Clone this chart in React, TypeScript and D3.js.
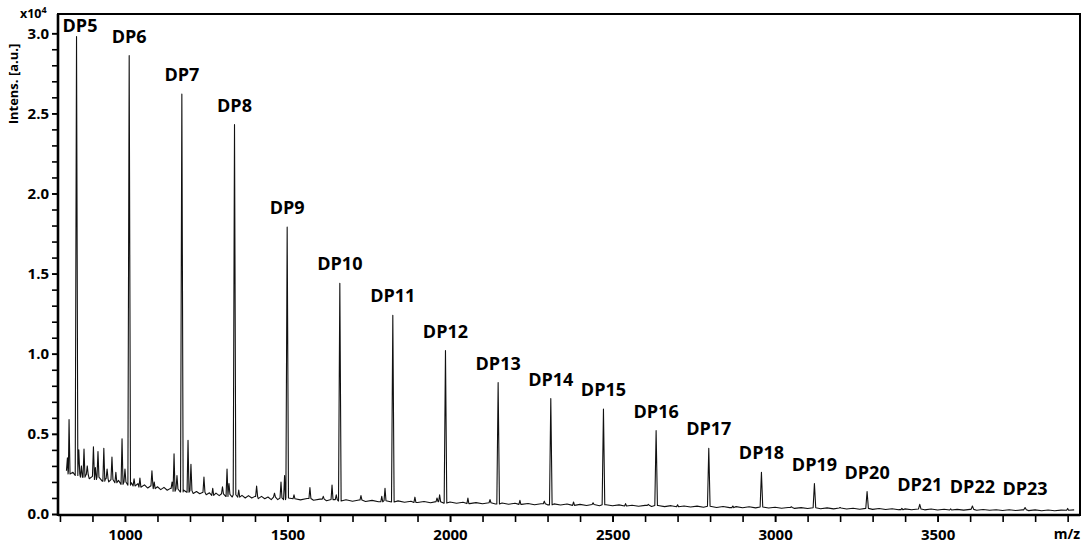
import React, { useEffect, useRef } from "react";
import * as d3 from "d3";

// DP (degree of polymerisation) series peaks, intensity in x10^4 a.u.
const dpLabels = ["DP5", "DP6", "DP7", "DP8", "DP9", "DP10", "DP11", "DP12", "DP13", "DP14", "DP15", "DP16", "DP17", "DP18", "DP19", "DP20", "DP21", "DP22", "DP23"];
const dpMz = [851, 1013, 1175, 1337, 1499, 1661, 1824, 1986, 2148, 2310, 2472, 2634, 2796, 2958, 3121, 3283, 3445, 3607, 3769];
const dpIntensity = [2.98, 2.86, 2.62, 2.43, 1.79, 1.44, 1.24, 1.02, 0.82, 0.72, 0.655, 0.52, 0.41, 0.26, 0.19, 0.14, 0.06, 0.05, 0.04];

// small side peaks
const minorMz = [823, 828, 858, 866, 874, 884, 903, 909, 917, 935, 945, 960, 972, 991, 1000, 1028, 1046, 1083, 1090, 1145, 1151, 1160, 1194, 1203, 1243, 1270, 1300, 1314, 1320, 1350, 1405, 1460, 1480, 1491, 1520, 1569, 1610, 1637, 1650, 1726, 1790, 1800, 1892, 1960, 1968, 2055, 2123, 2215, 2290, 2380, 2440, 2540, 2610, 2700, 2870, 3050, 3200, 3390, 3540, 3900];
const minorIntensity = [0.35, 0.59, 0.40, 0.30, 0.405, 0.30, 0.42, 0.29, 0.39, 0.41, 0.28, 0.355, 0.26, 0.47, 0.28, 0.22, 0.225, 0.27, 0.2, 0.2, 0.375, 0.24, 0.46, 0.31, 0.23, 0.16, 0.17, 0.28, 0.19, 0.15, 0.175, 0.13, 0.2, 0.24, 0.12, 0.165, 0.11, 0.18, 0.12, 0.115, 0.11, 0.16, 0.105, 0.1, 0.12, 0.1, 0.09, 0.085, 0.08, 0.075, 0.07, 0.065, 0.06, 0.058, 0.05, 0.045, 0.04, 0.035, 0.032, 0.035];

// baseline, 820..1500 every 10
const lowBaseStart = 820;
const lowBaseStep = 10;
const lowBase = [
  0.27, 0.25, 0.26, 0.24, 0.25, 0.23, 0.245, 0.22, 0.235, 0.215,
  0.23, 0.205, 0.22, 0.2, 0.215, 0.195, 0.21, 0.185, 0.2, 0.18,
  0.195, 0.175, 0.19, 0.168, 0.182, 0.162, 0.176, 0.158, 0.17, 0.152,
  0.166, 0.148, 0.16, 0.142, 0.156, 0.138, 0.15, 0.136, 0.146, 0.128,
  0.14, 0.126, 0.136, 0.12, 0.132, 0.116, 0.13, 0.115, 0.126, 0.11,
  0.122, 0.106, 0.12, 0.105, 0.116, 0.1, 0.115, 0.1, 0.11, 0.096,
  0.11, 0.095, 0.106, 0.09, 0.105, 0.09, 0.1, 0.09, 0.1,
];
// baseline, 1520..3920 every 20
const highBaseStart = 1520;
const highBaseStep = 20;
const highBase = [
  0.095, 0.088, 0.097, 0.086, 0.093, 0.083, 0.09, 0.081, 0.089, 0.08,
  0.087, 0.078, 0.085, 0.076, 0.083, 0.075, 0.082, 0.073, 0.08, 0.072,
  0.078, 0.07, 0.077, 0.068, 0.075, 0.067, 0.073, 0.065, 0.071, 0.064,
  0.07, 0.062, 0.069, 0.061, 0.067, 0.06, 0.066, 0.058, 0.064, 0.057,
  0.063, 0.056, 0.062, 0.054, 0.06, 0.053, 0.059, 0.052, 0.058, 0.051,
  0.057, 0.05, 0.055, 0.048, 0.054, 0.047, 0.053, 0.046, 0.052, 0.045,
  0.05, 0.044, 0.049, 0.042, 0.048, 0.041, 0.047, 0.04, 0.046, 0.039,
  0.045, 0.038, 0.044, 0.037, 0.042, 0.036, 0.041, 0.035, 0.04, 0.034,
  0.039, 0.033, 0.038, 0.032, 0.037, 0.031, 0.036, 0.03, 0.035, 0.029,
  0.034, 0.028, 0.033, 0.027, 0.032, 0.027, 0.031, 0.026, 0.031, 0.025,
  0.03, 0.025, 0.029, 0.024, 0.029, 0.023, 0.028, 0.023, 0.027, 0.022,
  0.027, 0.022, 0.026, 0.021, 0.026, 0.02, 0.025, 0.02, 0.024, 0.023,
  0.026,
];

const xMajorTicks = [1000, 1500, 2000, 2500, 3000, 3500];
const xMinorTicks = [800, 900, 1000, 1100, 1200, 1300, 1400, 1500, 1600, 1700, 1800, 1900, 2000, 2100, 2200, 2300, 2400, 2500, 2600, 2700, 2800, 2900, 3000, 3100, 3200, 3300, 3400, 3500, 3600, 3700, 3800, 3900];
const yMajorTicks = [0, 0.5, 1.0, 1.5, 2.0, 2.5, 3.0];
const yMinorTicks = [0, 0.1, 0.2, 0.3, 0.4, 0.5, 0.6, 0.7, 0.8, 0.9, 1.0, 1.1, 1.2, 1.3, 1.4, 1.5, 1.6, 1.7, 1.8, 1.9, 2.0, 2.1, 2.2, 2.3, 2.4, 2.5, 2.6, 2.7, 2.8, 2.9, 3.0];

const FONT = "'Open Sans', 'DejaVu Sans', sans-serif";

const App: React.FC = () => {
  const svgRef = useRef<SVGSVGElement | null>(null);
  const W = 1084;
  const H = 544;
  const margin = { top: 14, right: 4, bottom: 29, left: 58 };

  useEffect(() => {
    document.body.style.margin = "0";
    if (!svgRef.current) return;
    const svg = d3.select(svgRef.current);
    svg.selectAll("*").remove();

    const x = d3.scaleLinear().domain([794, 3938]).range([margin.left, W - margin.right]);
    const y = d3.scaleLinear().domain([0, 3.12]).range([H - margin.bottom - 1, margin.top]);

    // baseline points
    const base: [number, number][] = [
      ...lowBase.map((v, i) => [lowBaseStart + i * lowBaseStep, v] as [number, number]),
      ...highBase.map((v, i) => [highBaseStart + i * highBaseStep, v] as [number, number]),
    ];
    const nearestBase = (m: number) => {
      let best = base[0];
      for (const b of base) if (Math.abs(b[0] - m) < Math.abs(best[0] - m)) best = b;
      return best[1];
    };

    const peaks: { m: number; h: number; w: number }[] = [
      ...dpMz.map((m, i) => ({ m, h: dpIntensity[i], w: 4 })),
      ...minorMz.map((m, i) => ({ m, h: minorIntensity[i], w: 3 })),
    ];

    const pts: [number, number][] = base.filter(
      (b) => !peaks.some((p) => Math.abs(p.m - b[0]) <= p.w)
    );
    peaks.forEach((p) => {
      const f = nearestBase(p.m);
      pts.push([p.m - p.w, f], [p.m, p.h], [p.m + p.w, f]);
    });
    pts.sort((a, b) => a[0] - b[0]);

    const line = d3
      .line<[number, number]>()
      .x((d) => x(d[0]))
      .y((d) => y(d[1]));

    svg
      .append("path")
      .datum(pts)
      .attr("fill", "none")
      .attr("stroke", "#111")
      .attr("stroke-width", 1.1)
      .attr("stroke-linejoin", "round")
      .attr("d", line);

    // frame
    const x0 = margin.left;
    const x1 = W - margin.right;
    const yb = H - margin.bottom;
    svg
      .append("rect")
      .attr("x", x0)
      .attr("y", margin.top)
      .attr("width", x1 - x0)
      .attr("height", yb - margin.top)
      .attr("fill", "none")
      .attr("stroke", "#000")
      .attr("stroke-width", 2);
    svg.append("line").attr("x1", x0).attr("x2", x0).attr("y1", margin.top).attr("y2", yb + 1).attr("stroke", "#000").attr("stroke-width", 2.6);
    svg.append("line").attr("x1", x0).attr("x2", x1).attr("y1", yb).attr("y2", yb).attr("stroke", "#000").attr("stroke-width", 2.6);

    // y axis ticks
    const yAxisMinor = d3.axisLeft(y).tickValues(yMinorTicks).tickSize(5).tickFormat(() => "");
    const gy1 = svg.append("g").attr("transform", `translate(${x0 - 1},0)`).call(yAxisMinor);
    gy1.select(".domain").remove();
    gy1.selectAll("line").attr("stroke-width", 1.6);

    const yAxisMajor = d3.axisLeft(y).tickValues(yMajorTicks).tickSize(5).tickPadding(3).tickFormat(d3.format(".1f"));
    const gy2 = svg.append("g").attr("transform", `translate(${x0 - 1},0)`).call(yAxisMajor);
    gy2.select(".domain").remove();
    gy2.selectAll("line").attr("stroke-width", 1.6);
    gy2.selectAll("text").style("font-family", FONT).style("font-weight", "700").style("font-size", "15px").attr("fill", "#000");

    // x axis ticks
    const xAxisMinor = d3.axisBottom(x).tickValues(xMinorTicks).tickSize(6).tickFormat(() => "");
    const gx1 = svg.append("g").attr("transform", `translate(0,${yb + 1})`).call(xAxisMinor);
    gx1.select(".domain").remove();
    gx1.selectAll("line").attr("stroke-width", 1.6);

    const xAxisMajor = d3.axisBottom(x).tickValues(xMajorTicks).tickSize(6).tickPadding(7).tickFormat(d3.format("d"));
    const gx2 = svg.append("g").attr("transform", `translate(0,${yb + 1})`).call(xAxisMajor);
    gx2.select(".domain").remove();
    gx2.selectAll("line").attr("stroke-width", 1.6);
    gx2.selectAll("text").style("font-family", FONT).style("font-weight", "700").style("font-size", "15px").attr("fill", "#000");

    // DP labels
    svg
      .selectAll(".dp-label")
      .data(dpLabels)
      .enter()
      .append("text")
      .attr("class", "dp-label")
      .attr("x", (_d, i) => Math.max(x(dpMz[i]), x0 + 22))
      .attr("y", (_d, i) => Math.max(y(dpIntensity[i]) - 13, 32))
      .attr("text-anchor", "middle")
      .style("font-family", FONT)
      .style("font-weight", "700")
      .style("font-size", "18px")
      .attr("fill", "#000")
      .text((d) => d);

    // axis titles
    const exp = svg
      .append("text")
      .attr("x", 20)
      .attr("y", 18)
      .style("font-family", FONT)
      .style("font-weight", "700")
      .style("font-size", "12.5px")
      .attr("fill", "#000");
    exp.append("tspan").text("x10");
    exp.append("tspan").attr("dy", -5).style("font-size", "9px").text("4");

    svg
      .append("text")
      .attr("transform", "translate(18,84) rotate(-90)")
      .attr("text-anchor", "middle")
      .style("font-family", FONT)
      .style("font-weight", "700")
      .style("font-size", "13px")
      .attr("fill", "#000")
      .text("Intens. [a.u.]");

    svg
      .append("text")
      .attr("x", 1080)
      .attr("y", 539)
      .attr("text-anchor", "end")
      .style("font-family", FONT)
      .style("font-weight", "700")
      .style("font-size", "14px")
      .attr("fill", "#000")
      .text("m/z");
  }, []);

  return <svg ref={svgRef} width={W} height={H} style={{ display: "block", background: "#fff" }}></svg>;
};

export default App;
